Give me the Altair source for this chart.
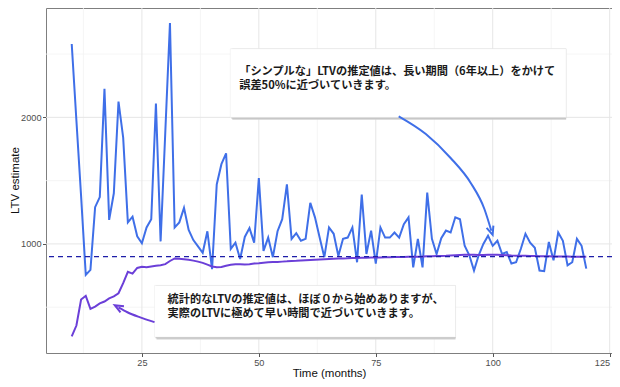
import altair as alt
import pandas as pd

# ---------------- data ----------------
months = list(range(10, 121))

simple_ltv = [2580, 1975, 1380, 755, 795, 1290, 1370, 2225, 1190, 1400,
              2125, 1840, 1170, 1215, 1060, 1005, 1130, 1195, 2110, 1020,
              1880, 2745, 1130, 1170, 1285, 1110, 1030, 980, 930, 1100,
              800, 1470, 1630, 1715, 960, 1010, 880, 1055, 1125, 1010,
              1520, 945, 1050, 895, 1100, 1195, 1470, 1040, 1085, 1025,
              1040, 1325, 1210, 1050, 895, 1130, 1080, 905, 1040, 1050,
              1130, 855, 1390, 920, 1105, 845, 1130, 1050, 1050, 1090,
              1050, 1155, 1210, 815, 1040, 815, 1405, 1040, 920, 1045,
              1105, 1090, 1210, 1195, 985, 910, 790, 910, 1000, 1065,
              985, 1025, 920, 935, 845, 855, 960, 1080, 1010, 970,
              790, 785, 1015, 870, 1090, 1025, 830, 855, 1040, 985, 805]

stat_ltv = [270, 355, 560, 590, 487, 505, 530, 545, 570, 585,
            610, 690, 780, 765, 810, 820, 815, 822, 828, 832,
            840, 865, 885, 882, 878, 874, 868, 860, 850, 836,
            822, 815, 818, 828, 836, 840, 840, 838, 840, 845,
            848, 852, 855, 857, 858, 860, 862, 865, 866, 868,
            870, 872, 874, 876, 878, 880, 882, 884, 885, 886,
            888, 888, 890, 891, 892, 893, 893, 894, 895, 896,
            896, 897, 898, 898, 899, 900, 902, 903, 904, 905,
            906, 908, 910, 912, 914, 915, 914, 913, 913, 914,
            915, 914, 912, 910, 908, 907, 906, 906, 905, 904,
            903, 902, 902, 901, 900, 900, 900, 899, 899, 899, 898]

true_ltv = [900]

x_major = [25, 50, 75, 100, 125]
x_minor = [12.5, 37.5, 62.5, 87.5, 112.5]
y_major = [1000, 2000]
y_minor = [500, 1500, 2500]

note1 = "「シンプルな」LTVの推定値は、長い期間（6年以上）をかけて\n誤差50%に近づいていきます。"
note2 = "統計的なLTVの推定値は、ほぼ０から始めありますが、\n実際のLTVに極めて早い時間で近づいていきます。"

# annotation geometry (data coordinates: month, LTV)
box1 = {"x0": 43.9, "x1": 115.7, "y0": 2000, "y1": 2542}
box2 = {"x0": 27.7, "x1": 92.05, "y0": 264, "y1": 672}
note_x = [45.8, 30.5]
note_y = [2355, 555]
arrow1_x = [79.9, 85.7, 91.0, 95.3, 98.2, 99.7]
arrow1_y = [2008, 1868, 1679, 1482, 1278, 1104]
arrow2_x = [27.7, 24.5, 21.9, 20.0]
arrow2_y = [382, 421, 460, 499]

BLUE = "#3f6fe8"
PURPLE = "#6b3fd8"
NAVY = "#1e1ea8"
FONT = "Liberation Sans"
JP = "Noto Sans CJK JP"

# ---------------- chart ----------------
xs = alt.Scale(domain=[4.5, 125.5], nice=False, zero=False)
ys = alt.Scale(domain=[138, 2864], nice=False, zero=False)

AXIS_STYLE = dict(grid=False, domain=False, tickSize=3.5, tickColor="#555",
                  labelColor="#4d4d4d", labelFontSize=9.2, labelPadding=1.5,
                  labelFont=FONT, titleFont=FONT, titleFontSize=11.5,
                  titleFontWeight="normal", titleColor="#111")
AX_X = alt.Axis(values=x_major, title="Time (months)", titlePadding=0,
                labelAlign={"condition": {"test": "datum.value >= 125", "value": "right"},
                            "value": "center"},
                **AXIS_STYLE)
AX_Y = alt.Axis(values=y_major, format="d", title="LTV estimate",
                titleX=-31, titleY=172, titleBaseline="middle", titleAngle=270,
                **AXIS_STYLE)


def X(f, **kw):
    return alt.X(f, scale=xs, axis=AX_X, **kw)


def Y(f, **kw):
    return alt.Y(f, scale=ys, axis=AX_Y, **kw)


grid_minor_x = alt.Chart(pd.DataFrame({"v": x_minor})).mark_rule(
    color="#f3f3f3", strokeWidth=0.8).encode(x=X("v:Q"))
grid_minor_y = alt.Chart(pd.DataFrame({"v": y_minor})).mark_rule(
    color="#f3f3f3", strokeWidth=0.8).encode(y=Y("v:Q"))
grid_major_x = alt.Chart(pd.DataFrame({"v": x_major})).mark_rule(
    color="#e6e6e6", strokeWidth=1).encode(x=X("v:Q"))
grid_major_y = alt.Chart(pd.DataFrame({"v": y_major})).mark_rule(
    color="#e6e6e6", strokeWidth=1).encode(y=Y("v:Q"))

df = pd.DataFrame({
    "month": months + months,
    "ltv": simple_ltv + stat_ltv,
    "series": ["simple"] * len(months) + ["statistical"] * len(months),
})

lines = alt.Chart(df).mark_line(strokeWidth=2).encode(
    x=X("month:Q"),
    y=Y("ltv:Q"),
    color=alt.Color("series:N", legend=None,
                    scale=alt.Scale(domain=["simple", "statistical"],
                                    range=[BLUE, PURPLE])),
    detail="series:N",
)

dashed = alt.Chart(pd.DataFrame({"v": true_ltv})).mark_rule(
    color=NAVY, strokeWidth=1.3, strokeDash=[5, 4]).encode(y=Y("v:Q"))

boxes = pd.DataFrame([box1, box2])
shadow1 = alt.Chart(boxes).mark_rect(color="#d2d2d2", xOffset=2, yOffset=2.5).encode(
    x=X("x0:Q"), x2="x1:Q", y=Y("y0:Q"), y2="y1:Q")
shadow2 = alt.Chart(boxes).mark_rect(color="#bcbcbc", xOffset=1, yOffset=1.2).encode(
    x=X("x0:Q"), x2="x1:Q", y=Y("y0:Q"), y2="y1:Q")
box_rect = alt.Chart(boxes).mark_rect(color="white", stroke="#eeeeee", strokeWidth=0.6).encode(
    x=X("x0:Q"), x2="x1:Q", y=Y("y0:Q"), y2="y1:Q")

notes = pd.DataFrame({"x": note_x, "y": note_y, "t": [note1, note2]})
note_text = alt.Chart(notes).mark_text(
    align="left", baseline="middle", font=JP, fontSize=11.2, lineBreak="\n",
    lineHeight=14, fontWeight="bold", color="#1a1a1a").encode(
    x=X("x:Q"), y=Y("y:Q"), text="t:N")

a1 = pd.DataFrame({"x": arrow1_x, "y": arrow1_y})
a2 = pd.DataFrame({"x": arrow2_x, "y": arrow2_y})
arrow1 = alt.Chart(a1).mark_line(color=BLUE, strokeWidth=2, interpolate="monotone").encode(
    x=X("x:Q"), y=Y("y:Q"))
arrow2 = alt.Chart(a2).mark_line(color=PURPLE, strokeWidth=2, interpolate="monotone").encode(
    x=X("x:Q"), y=Y("y:Q"))
head_shape = "M -0.75 0.9 L 0 -0.9 L 0.75 0.9"
head1 = alt.Chart(a1.tail(1)).mark_point(
    shape=head_shape, filled=False, size=90, strokeWidth=2, color=BLUE,
    angle=162, opacity=1).encode(x=X("x:Q"), y=Y("y:Q"))
head2 = alt.Chart(a2.tail(1)).mark_point(
    shape=head_shape, filled=False, size=90, strokeWidth=2, color=PURPLE,
    angle=299, opacity=1).encode(x=X("x:Q"), y=Y("y:Q"))

chart = alt.layer(
    grid_minor_x, grid_minor_y, grid_major_x, grid_major_y,
    lines, dashed,
    shadow1, shadow2, box_rect, note_text,
    arrow1, arrow2, head1, head2,
).properties(
    width=566, height=345,
    autosize=alt.AutoSizeParams(type="none"),
    padding={"left": 38, "top": 0, "right": 0, "bottom": 26},
    background="white",
).configure_view(stroke="#7f7f7f", strokeWidth=1)

chart.save("out.html", embed_options={"renderer": "svg", "actions": False})
